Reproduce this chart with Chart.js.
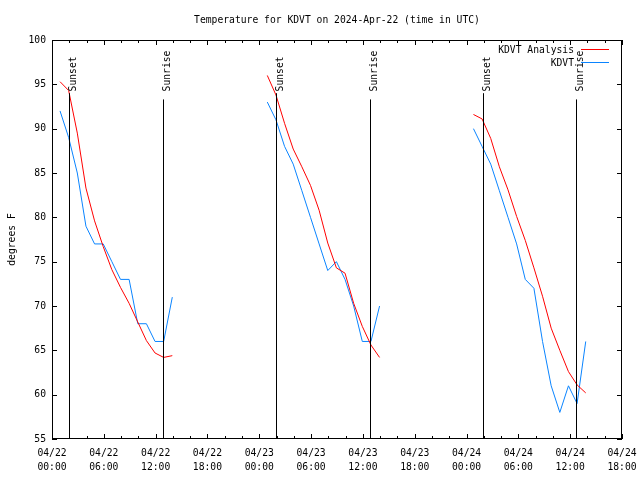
<!DOCTYPE html>
<html>
<head>
<meta charset="utf-8">
<script src="https://cdn.jsdelivr.net/npm/chart.js@4/dist/chart.umd.min.js"></script>
<style>
  html, body { margin: 0; padding: 0; background: #ffffff; }
  canvas { display: block; }
</style>
</head>
<body>
<canvas id="c" width="640" height="480"></canvas>
<script>
// ---- data (hours since 2024-04-22 00:00 UTC) ----
const titleText = 'Temperature for KDVT on 2024-Apr-22 (time in UTC)';
const tickDates = ['04/22','04/22','04/22','04/22','04/23','04/23','04/23','04/23','04/24','04/24','04/24','04/24'];
const tickTimes = ['00:00','06:00','12:00','18:00','00:00','06:00','12:00','18:00','00:00','06:00','12:00','18:00'];

const day1Hours = [0.93, 1.93, 2.93, 3.93, 4.93, 5.93, 6.93, 7.93, 8.93, 9.93, 10.93, 11.93, 12.93, 13.93];
const day2Hours = [24.93, 25.93, 26.93, 27.93, 28.93, 29.93, 30.93, 31.93, 32.93, 33.93, 34.93, 35.93, 36.93, 37.93];
const day3Hours = [48.8, 49.8, 50.8, 51.8, 52.8, 53.8, 54.8, 55.8, 56.8, 57.8, 58.8, 59.8, 60.8, 61.8];

const analysisDay1 = [95.3, 94.3, 89.5, 83.3, 79.6, 76.7, 74.1, 72.1, 70.3, 68.2, 66.1, 64.7, 64.2, 64.4];
const analysisDay2 = [96.0, 93.8, 90.6, 87.7, 85.7, 83.6, 80.8, 77.1, 74.3, 73.7, 70.3, 67.7, 65.6, 64.2];
const analysisDay3 = [91.6, 91.1, 88.9, 85.7, 83.1, 80.1, 77.4, 74.3, 71.1, 67.5, 65.0, 62.6, 61.1, 60.2];

const obsDay1 = [92, 89, 85, 79, 77, 77, 75, 73, 73, 68, 68, 66, 66, 71];
const obsDay2 = [93, 91, 88, 86, 83, 80, 77, 74, 75, 73, 70, 66, 66, 70];
const obsDay3 = [90, 88, 86, 83, 80, 77, 73, 72, 66, 61, 58, 61, 59, 66];

const sunsetHours = [2.0, 25.94, 49.94];
const sunriseHours = [12.89, 36.82, 60.71];

const FONT = '"DejaVu Sans Mono", monospace';
const FSIZE = 9.7;

function block(hours, vals) {
  return hours.map((h, i) => ({ x: h, y: vals[i] }));
}
function joinBlocks(blocks) {
  const out = [];
  blocks.forEach((b, i) => {
    if (i > 0) out.push({ x: b[0].x - 0.5, y: null });
    out.push(...b);
  });
  return out;
}

const analysisData = joinBlocks([
  block(day1Hours, analysisDay1), block(day2Hours, analysisDay2), block(day3Hours, analysisDay3)
]);
const obsData = joinBlocks([
  block(day1Hours, obsDay1), block(day2Hours, obsDay2), block(day3Hours, obsDay3)
]);

// ---- plugins ----
const framePlugin = {
  id: 'frame',
  afterDatasetsDraw(chart) {
    const { ctx, chartArea: a, scales } = chart;
    const xs = scales.x, ys = scales.y;
    ctx.save();
    ctx.strokeStyle = '#000';
    ctx.lineWidth = 1;
    ctx.beginPath();
    // x ticks: minor every 2h, major every 6h
    for (let v = xs.min; v <= xs.max; v += 2) {
      const px = Math.round(xs.getPixelForValue(v)) + 0.5;
      const len = (v % 6 === 0) ? 5 : 3;
      ctx.moveTo(px, a.bottom); ctx.lineTo(px, a.bottom - len);
      ctx.moveTo(px, a.top); ctx.lineTo(px, a.top + len);
    }
    for (let v = ys.min; v <= ys.max; v += 5) {
      const py = Math.round(ys.getPixelForValue(v)) + 0.5;
      ctx.moveTo(a.left, py); ctx.lineTo(a.left + 5, py);
      ctx.moveTo(a.right, py); ctx.lineTo(a.right - 5, py);
    }
    ctx.stroke();
    ctx.strokeRect(a.left + 0.5, a.top + 0.5, a.right - a.left - 1, a.bottom - a.top - 1);

    // sunrise / sunset markers
    const drawSun = (h, label, topVal) => {
      const px = Math.round(xs.getPixelForValue(h)) + 0.5;
      ctx.beginPath();
      ctx.moveTo(px, a.bottom);
      ctx.lineTo(px, ys.getPixelForValue(topVal));
      ctx.stroke();
      ctx.save();
      ctx.translate(px + 6, ys.getPixelForValue(94.2));
      ctx.rotate(-Math.PI / 2);
      ctx.fillStyle = '#000';
      ctx.font = FSIZE + 'px ' + FONT;
      ctx.textAlign = 'left';
      ctx.textBaseline = 'alphabetic';
      ctx.fillText(label, 0, 0);
      ctx.restore();
    };
    sunsetHours.forEach(h => drawSun(h, 'Sunset', 94.0));
    sunriseHours.forEach(h => drawSun(h, 'Sunrise', 93.3));

    // title
    ctx.fillStyle = '#000';
    ctx.font = FSIZE + 'px ' + FONT;
    ctx.textAlign = 'center';
    ctx.textBaseline = 'middle';
    ctx.fillText(titleText, (a.left + a.right) / 2, 20);

    // legend (gnuplot style, top right inside)
    ctx.textAlign = 'right';
    chart.data.datasets.forEach((ds, i) => {
      const y = a.top + 10 + i * 13;
      ctx.fillStyle = '#000';
      ctx.fillText(ds.label, a.right - 48, y + 0.5);
      ctx.strokeStyle = ds.borderColor;
      ctx.beginPath();
      ctx.moveTo(a.right - 41, y - 0.5);
      ctx.lineTo(a.right - 13, y - 0.5);
      ctx.stroke();
    });
    ctx.restore();
  }
};

new Chart(document.getElementById('c'), {
  type: 'line',
  data: {
    datasets: [
      { label: 'KDVT Analysis', data: analysisData, borderColor: '#ff0000', borderWidth: 1,
        pointRadius: 0, tension: 0, spanGaps: false, fill: false },
      { label: 'KDVT', data: obsData, borderColor: '#0a84ff', borderWidth: 1,
        pointRadius: 0, tension: 0, spanGaps: false, fill: false }
    ]
  },
  options: {
    responsive: false,
    animation: false,
    devicePixelRatio: 1,
    layout: { padding: { top: 40, right: 18, left: 0, bottom: 0 } },
    plugins: { legend: { display: false }, tooltip: { enabled: false }, title: { display: false } },
    scales: {
      x: {
        type: 'linear', min: 0, max: 66,
        grid: { display: false, drawTicks: false },
        border: { display: false },
        ticks: {
          stepSize: 6, autoSkip: false, maxRotation: 0, minRotation: 0, padding: 8,
          color: '#000', font: { family: FONT, size: FSIZE, lineHeight: 1.4 },
          callback: (v, i) => [tickDates[i], tickTimes[i]]
        },
        afterFit: (s) => { s.height = 41; s.paddingLeft = 0; s.paddingRight = 0; }
      },
      y: {
        type: 'linear', min: 55, max: 100,
        grid: { display: false, drawTicks: false },
        border: { display: false },
        ticks: { stepSize: 5, padding: 6, color: '#000', font: { family: FONT, size: FSIZE } },
        title: { display: true, text: 'degrees F', color: '#000', font: { family: FONT, size: FSIZE },
                 padding: { top: 7, bottom: 0 } },
        afterFit: (s) => { s.width = 52; s.paddingTop = 0; s.paddingBottom = 0; }
      }
    }
  },
  plugins: [framePlugin]
});
</script>
</body>
</html>
